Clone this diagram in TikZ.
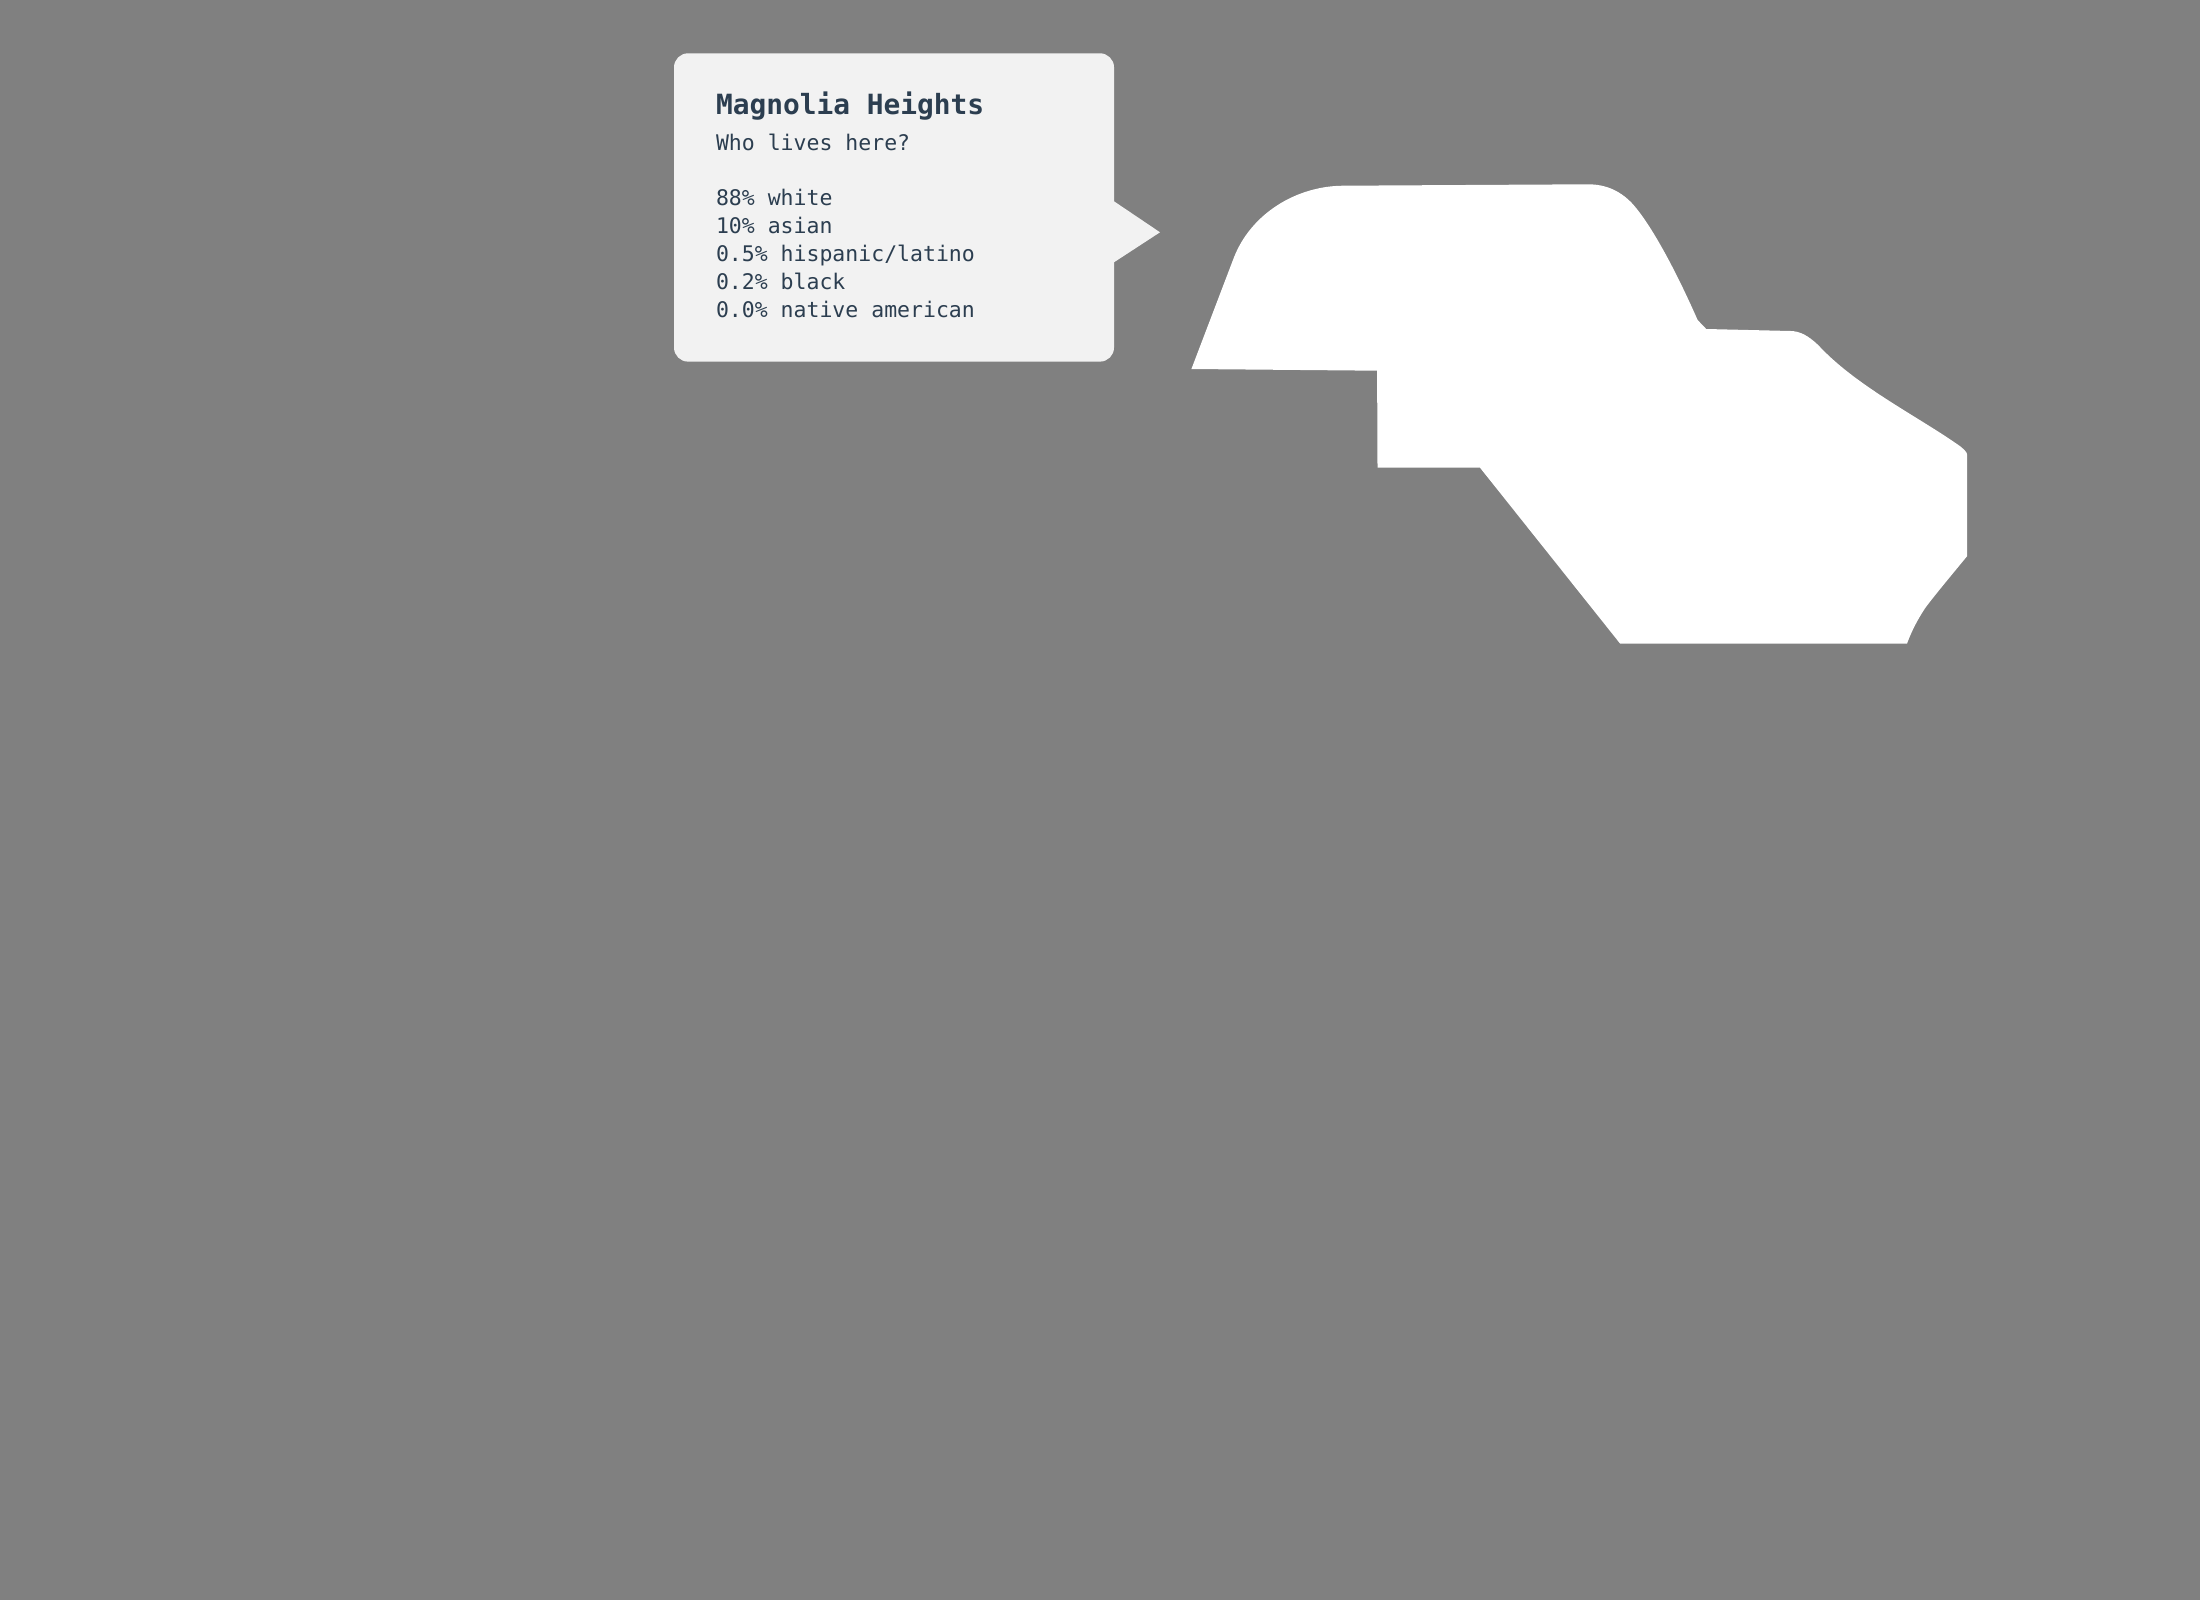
\documentclass[tikz,border=0pt]{standalone}
\usepackage{fontspec}
\setmonofont{DejaVu Sans Mono}
\definecolor{bggray}{HTML}{808080}
\definecolor{boxfill}{HTML}{F2F2F2}
\definecolor{inkblue}{HTML}{2C3E50}
\tikzset{
  bodyline/.style={anchor=base west,inner sep=0pt,outer sep=0pt,text=inkblue,font=\ttfamily\fontsize{21.5pt}{28pt}\selectfont},
  titleline/.style={anchor=base west,inner sep=0pt,outer sep=0pt,text=inkblue,font=\ttfamily\bfseries\fontsize{27.85pt}{32pt}\selectfont},
}
\begin{document}
\begin{tikzpicture}[x=1pt,y=-1pt]
\useasboundingbox (0,0) rectangle (2200,1600);
\fill[bggray] (0,0) rectangle (2200,1600);
% white region
\fill[white] (1191.4,369) -- (1377.1,370.7) -- (1377.5,467.7) -- (1480,467.7)
  -- (1620.1,643.6) -- (1907,643.6)
  .. controls (1912,630) and (1918,619) .. (1925,608.3)
  .. controls (1934,596) and (1950,577) .. (1967.2,556)
  -- (1967.2,455)
  .. controls (1967.2,452) and (1963,448) .. (1955.9,443.3)
  .. controls (1915,415) and (1855,385) .. (1818.1,345)
  .. controls (1808,335.5) and (1800,331.2) .. (1790.6,331)
  -- (1706.2,329) -- (1697.6,320)
  .. controls (1680,280) and (1655,230) .. (1633.6,205)
  .. controls (1622,192) and (1607,184) .. (1587,184.3)
  -- (1344,185.7)
  .. controls (1296.3,185.7) and (1250.6,213.8) .. (1233.6,258.3)
  -- cycle;
% callout
\fill[boxfill] (688,53.3) -- (1100,53.3) arc[start angle=-90,end angle=0,radius=14]
  -- (1114,201.3) -- (1160,232.3) -- (1114,262.3) -- (1114,347.6)
  arc[start angle=0,end angle=90,radius=14]
  -- (688,361.6) arc[start angle=90,end angle=180,radius=14]
  -- (674,67.3) arc[start angle=180,end angle=270,radius=14] -- cycle;
\node[titleline] (title) at (716,115) {Magnolia Heights};
\node[bodyline] (who) at (716,150) {Who lives here?};
\node[bodyline] (l1) at (716,205.7) {88\% white};
\node[bodyline] (l2) at (716,233.7) {10\% asian};
\node[bodyline] (l3) at (716,261.7) {0.5\% hispanic/latino};
\node[bodyline] (l4) at (716,289.7) {0.2\% black};
\node[bodyline] (l5) at (716,317.7) {0.0\% native american};
\end{tikzpicture}
\end{document}
